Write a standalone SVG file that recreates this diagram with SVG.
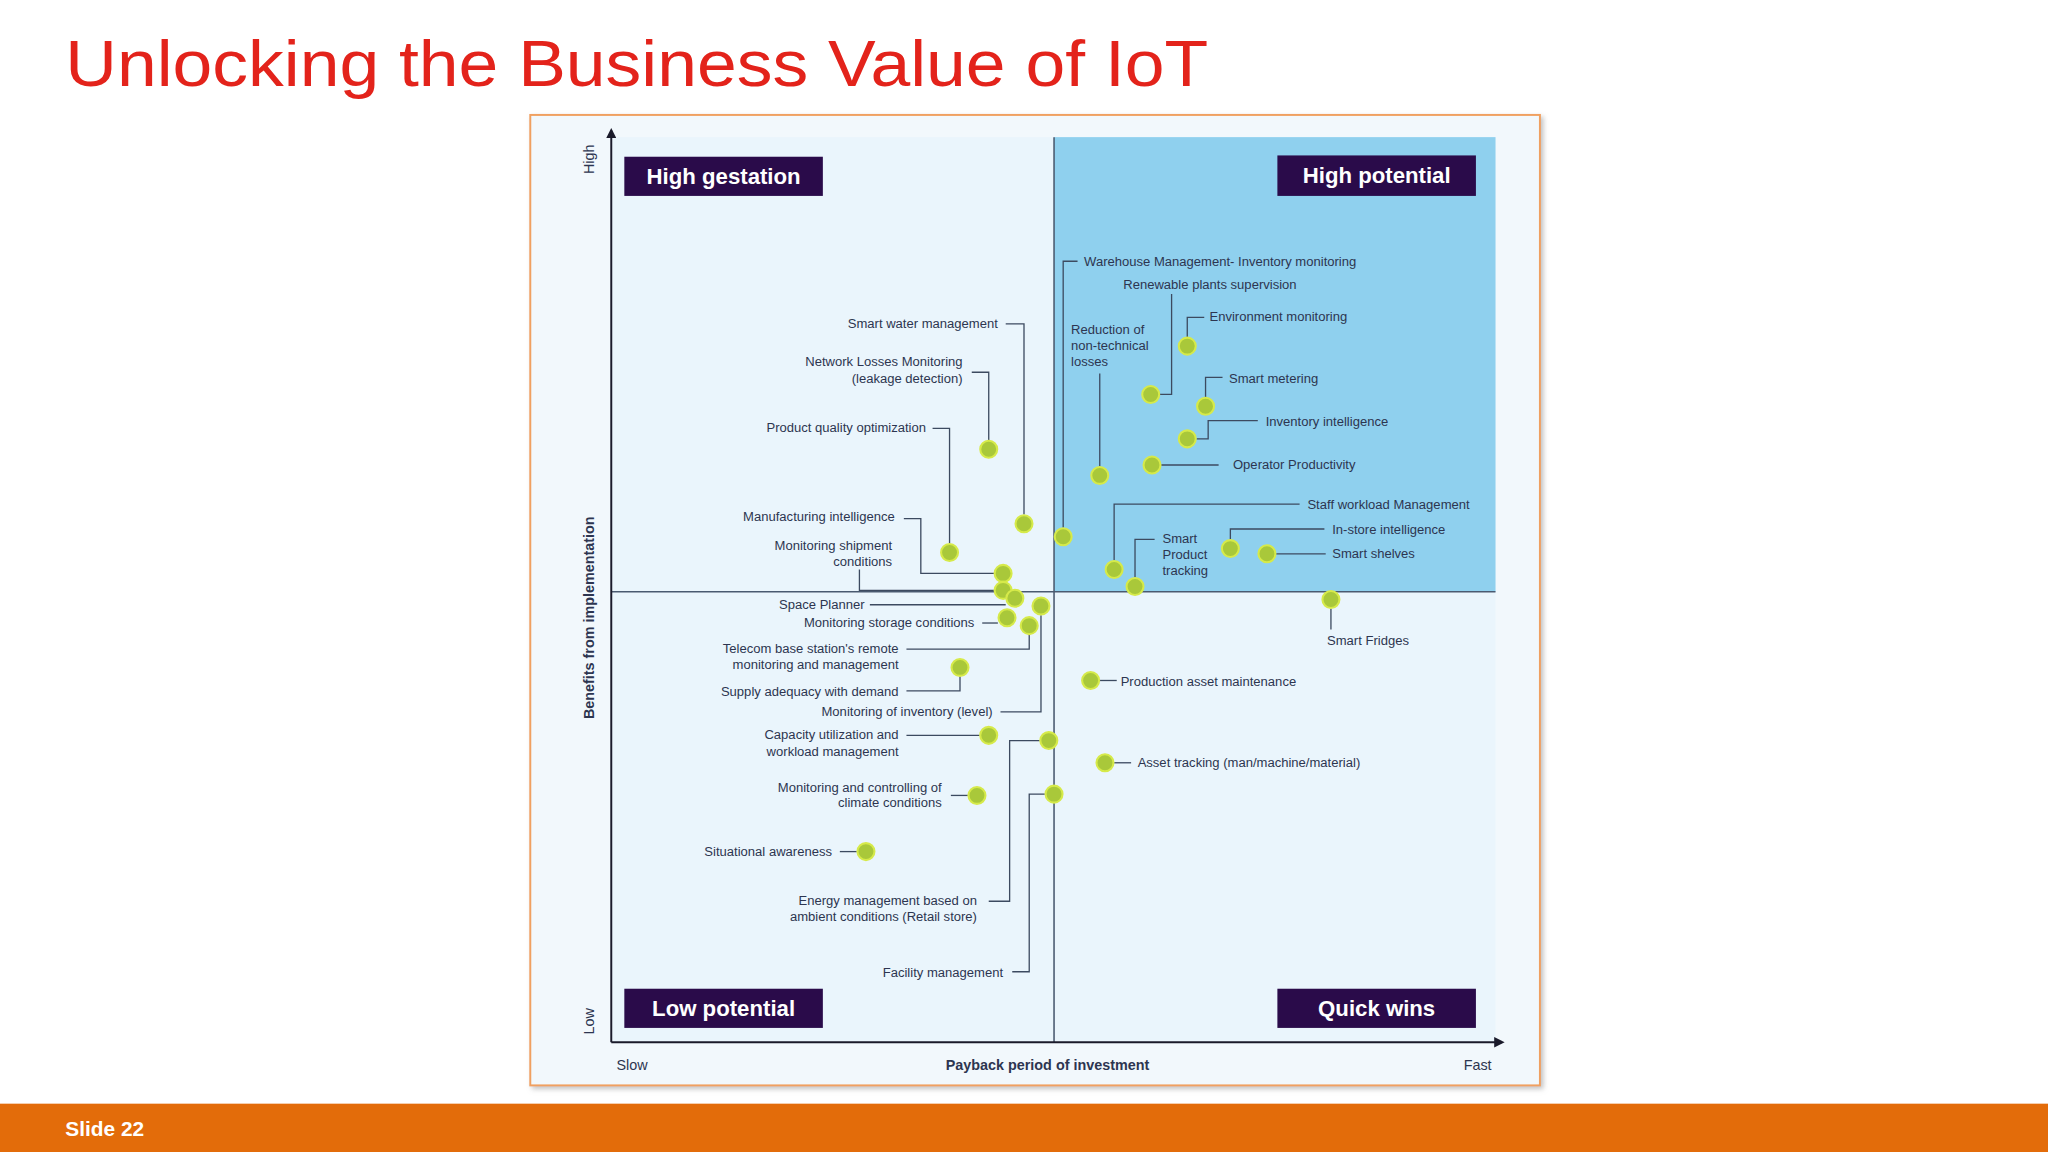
<svg xmlns="http://www.w3.org/2000/svg" width="2048" height="1152" viewBox="0 0 2048 1152">
<style>
.t{font-family:"Liberation Sans",Arial,sans-serif;font-size:10px;fill:#2d3550}
.e{text-anchor:end}
.d{fill:#a9c83a;stroke:#d6ea4a;stroke-width:1.6}
.c{fill:none;stroke:#3c4a60;stroke-width:1}
.qb{fill:#2a0b4a}
.qt{font-family:"Liberation Sans",Arial,sans-serif;font-size:17px;font-weight:bold;fill:#fff;text-anchor:middle}
.ax{font-family:"Liberation Sans",Arial,sans-serif;font-size:11px;fill:#2d3550}
</style>
<defs>
<marker id="ar" markerWidth="8" markerHeight="8" refX="6" refY="4" orient="auto" markerUnits="userSpaceOnUse"><path d="M0,0 L8,4 L0,8 z" fill="#1a1a2a"/></marker>
<filter id="sh" x="-5%" y="-5%" width="110%" height="110%"><feDropShadow dx="2" dy="2" stdDeviation="2" flood-color="#999" flood-opacity="0.6"/></filter>
</defs>
<rect width="2048" height="1152" fill="#ffffff"/>
<g transform="scale(1.306122)">
<text x="50" y="66" font-family="'Liberation Sans',Arial,sans-serif" font-size="50" fill="#e3231b" textLength="875" lengthAdjust="spacingAndGlyphs">Unlocking the Business Value of IoT</text>
<rect x="0" y="845" width="1568" height="37" fill="#e36c0a"/>
<text x="50" y="870" font-family="'Liberation Sans',Arial,sans-serif" font-size="16" font-weight="bold" fill="#fff">Slide 22</text>
<g id="frame">
<rect x="406" y="88" width="773" height="743" fill="#f2f8fc" stroke="#f0a060" stroke-width="1.5" filter="url(#sh)"/>
<rect x="468" y="105" width="677" height="693" fill="#eaf5fc"/>
<rect x="807" y="105" width="338" height="348" fill="#8fd0ee"/>
<line x1="468" y1="453" x2="1145" y2="453" stroke="#4a5a70" stroke-width="1.2"/>
<line x1="807" y1="105" x2="807" y2="798" stroke="#4a5a70" stroke-width="1.2"/>
<line x1="468" y1="798" x2="468" y2="100" stroke="#1a1a2a" stroke-width="1.5" marker-end="url(#ar)"/>
<line x1="468" y1="798" x2="1150" y2="798" stroke="#1a1a2a" stroke-width="1.5" marker-end="url(#ar)"/>
<text class="ax" transform="translate(455,122) rotate(-90)" text-anchor="middle">High</text>
<text class="ax" transform="translate(455,782) rotate(-90)" text-anchor="middle">Low</text>
<text class="ax" transform="translate(455,473) rotate(-90)" text-anchor="middle" font-weight="bold">Benefits from implementation</text>
<text class="ax" x="472" y="819">Slow</text>
<text class="ax" x="802" y="819" text-anchor="middle" font-weight="bold">Payback period of investment</text>
<text class="ax" x="1142" y="819" text-anchor="end">Fast</text>
</g>
<g id="q1"><rect class="qb" x="478" y="120" width="152" height="30"/><text class="qt" x="554" y="141">High gestation</text></g>
<g id="q2"><rect class="qb" x="978" y="119" width="152" height="31"/><text class="qt" x="1054" y="140">High potential</text></g>
<g id="q3"><rect class="qb" x="478" y="757" width="152" height="30"/><text class="qt" x="554" y="778">Low potential</text></g>
<g id="q4"><rect class="qb" x="978" y="757" width="152" height="30"/><text class="qt" x="1054" y="778">Quick wins</text></g>
<g id="connectors">
<path class="c" d="M909,258 V243 H922"/>
<path class="c" d="M888,302 H897 V225"/>
<path class="c" d="M923,304 V289 H936"/>
<path class="c" d="M916,336 H925 V322 H963"/>
<path class="c" d="M889,356 H933"/>
<path class="c" d="M842,357 V286"/>
<path class="c" d="M814,404 V200 H825"/>
<path class="c" d="M784,394 V248 H770"/>
<path class="c" d="M757,337 V285 H744"/>
<path class="c" d="M727,416 V328 H714"/>
<path class="c" d="M761,439 H705 V397 H692"/>
<path class="c" d="M761,452 H658 V436"/>
<path class="c" d="M770,463 H666"/>
<path class="c" d="M797,471 V545 H766"/>
<path class="c" d="M764,477 H752"/>
<path class="c" d="M788,486 V497 H694"/>
<path class="c" d="M735,518 V529 H694"/>
<path class="c" d="M750,563 H694"/>
<path class="c" d="M796,567 H773 V690 H757"/>
<path class="c" d="M741,609 H728"/>
<path class="c" d="M800,608 H788 V744 H775"/>
<path class="c" d="M656,652 H643"/>
<path class="c" d="M853,429 V386 H995"/>
<path class="c" d="M869,442 V413 H884"/>
<path class="c" d="M942,413 V405 H1014"/>
<path class="c" d="M977,424 H1015"/>
<path class="c" d="M1019,466 V482"/>
<path class="c" d="M842,521 H855"/>
<path class="c" d="M853,584 H866"/>
</g>
<g id="n1"><circle class="d" cx="909" cy="265" r="6.5"/><text class="t" x="926" y="246">Environment monitoring</text></g>
<g id="n2"><circle class="d" cx="881" cy="302" r="6.5"/><text class="t" x="860" y="221">Renewable plants supervision</text></g>
<g id="n3"><circle class="d" cx="923" cy="311" r="6.5"/><text class="t" x="941" y="293">Smart metering</text></g>
<g id="n4"><circle class="d" cx="909" cy="336" r="6.5"/><text class="t" x="969" y="326">Inventory intelligence</text></g>
<g id="n5"><circle class="d" cx="882" cy="356" r="6.5"/><text class="t" x="944" y="359">Operator Productivity</text></g>
<g id="n6"><circle class="d" cx="842" cy="364" r="6.5"/><text class="t" x="820" y="256">Reduction of</text><text class="t" x="820" y="268">non-technical</text><text class="t" x="820" y="280">losses</text></g>
<g id="n7"><circle class="d" cx="814" cy="411" r="6.5"/><text class="t" x="830" y="204">Warehouse Management- Inventory monitoring</text></g>
<g id="n8"><circle class="d" cx="784" cy="401" r="6.5"/><text class="t e" x="764" y="251">Smart water management</text></g>
<g id="n9"><circle class="d" cx="757" cy="344" r="6.5"/><text class="t e" x="737" y="280">Network Losses Monitoring</text><text class="t e" x="737" y="293">(leakage detection)</text></g>
<g id="n10"><circle class="d" cx="727" cy="423" r="6.5"/><text class="t e" x="709" y="331">Product quality optimization</text></g>
<g id="n11"><circle class="d" cx="768" cy="439" r="6.5"/><text class="t e" x="685" y="399">Manufacturing intelligence</text></g>
<g id="n12"><circle class="d" cx="768" cy="452" r="6.5"/><text class="t e" x="683" y="421">Monitoring shipment</text><text class="t e" x="683" y="433">conditions</text></g>
<g id="n13"><circle class="d" cx="777" cy="458" r="6.5"/><text class="t e" x="662" y="466">Space Planner</text></g>
<g id="n14"><circle class="d" cx="797" cy="464" r="6.5"/><text class="t e" x="760" y="548">Monitoring of inventory (level)</text></g>
<g id="n15"><circle class="d" cx="771" cy="473" r="6.5"/><text class="t e" x="746" y="480">Monitoring storage conditions</text></g>
<g id="n16"><circle class="d" cx="788" cy="479" r="6.5"/><text class="t e" x="688" y="500">Telecom base station's remote</text><text class="t e" x="688" y="512">monitoring and management</text></g>
<g id="n17"><circle class="d" cx="735" cy="511" r="6.5"/><text class="t e" x="688" y="533">Supply adequacy with demand</text></g>
<g id="n18"><circle class="d" cx="757" cy="563" r="6.5"/><text class="t e" x="688" y="566">Capacity utilization and</text><text class="t e" x="688" y="579">workload management</text></g>
<g id="n19"><circle class="d" cx="803" cy="567" r="6.5"/><text class="t e" x="748" y="693">Energy management based on</text><text class="t e" x="748" y="705">ambient conditions (Retail store)</text></g>
<g id="n20"><circle class="d" cx="748" cy="609" r="6.5"/><text class="t e" x="721" y="606">Monitoring and controlling of</text><text class="t e" x="721" y="618">climate conditions</text></g>
<g id="n21"><circle class="d" cx="807" cy="608" r="6.5"/><text class="t e" x="768" y="748">Facility management</text></g>
<g id="n22"><circle class="d" cx="663" cy="652" r="6.5"/><text class="t e" x="637" y="655">Situational awareness</text></g>
<g id="n23"><circle class="d" cx="853" cy="436" r="6.5"/><text class="t" x="1001" y="390">Staff workload Management</text></g>
<g id="n24"><circle class="d" cx="869" cy="449" r="6.5"/><text class="t" x="890" y="416">Smart</text><text class="t" x="890" y="428">Product</text><text class="t" x="890" y="440">tracking</text></g>
<g id="n25"><circle class="d" cx="942" cy="420" r="6.5"/><text class="t" x="1020" y="409">In-store intelligence</text></g>
<g id="n26"><circle class="d" cx="970" cy="424" r="6.5"/><text class="t" x="1020" y="427">Smart shelves</text></g>
<g id="n27"><circle class="d" cx="1019" cy="459" r="6.5"/><text class="t" x="1016" y="494">Smart Fridges</text></g>
<g id="n28"><circle class="d" cx="835" cy="521" r="6.5"/><text class="t" x="858" y="525">Production asset maintenance</text></g>
<g id="n29"><circle class="d" cx="846" cy="584" r="6.5"/><text class="t" x="871" y="587">Asset tracking (man/machine/material)</text></g>
</g>
</svg>
